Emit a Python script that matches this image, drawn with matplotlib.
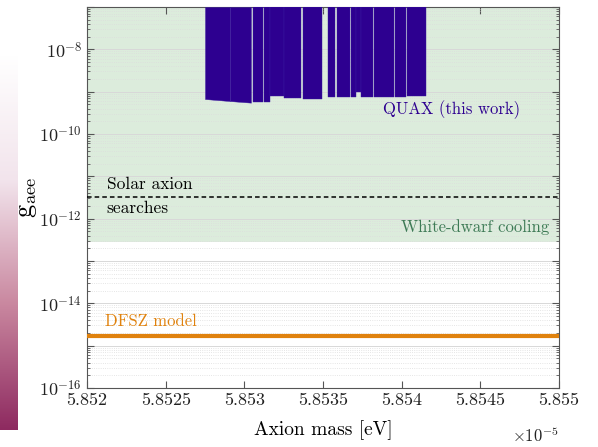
import numpy as np
import matplotlib
matplotlib.use("Agg")
import matplotlib.pyplot as plt
from matplotlib.ticker import FixedLocator, FuncFormatter, LogLocator
from matplotlib.colors import LinearSegmentedColormap

plt.rcParams['mathtext.fontset'] = 'cm'
plt.rcParams['font.family'] = ['cmr10', 'DejaVu Serif']
plt.rcParams['axes.formatter.use_mathtext'] = True

# QUAX exclusion segments (mass in eV, lower bound of excluded g_aee)
seg_start = [5.85275e-5, 5.852909e-5, 5.853053e-5, 5.853125e-5, 5.853163e-5,
             5.853254e-5, 5.853375e-5, 5.853534e-5, 5.853587e-5, 5.853678e-5,
             5.853708e-5, 5.853740e-5, 5.853826e-5, 5.853960e-5, 5.854034e-5]
seg_end = [5.852909e-5, 5.853042e-5, 5.853117e-5, 5.853163e-5, 5.853254e-5,
           5.853360e-5, 5.853496e-5, 5.853578e-5, 5.853672e-5, 5.853708e-5,
           5.853740e-5, 5.853820e-5, 5.853951e-5, 5.854026e-5, 5.854155e-5]
g_low_start = [6.7e-10, 6.0e-10, 5.7e-10, 5.8e-10, 8.0e-10,
               6.9e-10, 6.7e-10, 7.6e-10, 7.6e-10, 7.6e-10,
               1.0e-9, 7.6e-10, 7.4e-10, 7.6e-10, 7.8e-10]
g_low_end = [6.0e-10, 5.5e-10, 5.7e-10, 5.8e-10, 8.0e-10,
             6.9e-10, 6.7e-10, 7.6e-10, 7.6e-10, 7.6e-10,
             1.0e-9, 7.6e-10, 7.4e-10, 7.6e-10, 7.8e-10]
g_top = 1e-7

white_dwarf_limit = 2.85e-13
solar_limit = 3.3e-12
dfsz_value = 1.67e-15

x_min, x_max = 5.852e-5, 5.855e-5
y_min, y_max = 1e-16, 1e-7
x_ticks = [5.852e-5, 5.8525e-5, 5.853e-5, 5.8535e-5, 5.854e-5, 5.8545e-5, 5.855e-5]

fig = plt.figure(figsize=(5.98, 4.47), dpi=100)

# decorative gradient strip on the left
gax = fig.add_axes([0, 1 - 430 / 447, 18 / 598, (430 - 55) / 447])
cmap = LinearSegmentedColormap.from_list('g', ['#ffffff', '#f2e4ec', '#c9879f', '#8e2a60'])
grad = np.linspace(0, 1, 256).reshape(-1, 1)
gax.imshow(grad, aspect='auto', cmap=cmap, origin='upper')
gax.axis('off')

ax = fig.add_axes([87 / 598, 1 - 388 / 447, (559 - 87) / 598, (388 - 7) / 447])
ax.set_yscale('log')
ax.set_xlim(x_min, x_max)
ax.set_ylim(y_min, y_max)

# White dwarf region
ax.fill_between([x_min, x_max], white_dwarf_limit, y_max, color='#dcecdc', zorder=0, lw=0)

# grid
ax.set_axisbelow(True)
ax.grid(which='major', axis='y', color='#d8d8d8', lw=0.7, ls='-')
ax.grid(which='minor', axis='y', color='#dddddd', lw=0.6, ls=':')

# QUAX
for s, e, a, b in zip(seg_start, seg_end, g_low_start, g_low_end):
    ax.fill_between([s, e], [a, b], g_top, color='#2d0090', lw=0.3,
                    edgecolor='#3a1aa0', zorder=3)

# Solar
ax.plot([x_min, x_max], [solar_limit, solar_limit], color='black', ls=(0, (3, 2)),
        lw=1.1, zorder=4)
# DFSZ
ax.plot([x_min, x_max], [dfsz_value, dfsz_value], color='#e0820e', lw=3, zorder=4)

# texts
ax.text(5.852125e-5, 6.6e-12, 'Solar axion', fontsize=12.5, ha='left', va='center', zorder=5)
ax.text(5.852125e-5, 1.75e-12, 'searches', fontsize=12.5, ha='left', va='center', zorder=5)
ax.text(5.85494e-5, 6.2e-13, 'White-dwarf cooling', fontsize=12, color='#3d7a55',
        ha='right', va='center', zorder=5)
ax.text(5.85475e-5, 3.7e-10, 'QUAX (this work)', fontsize=12, color='#2d0090',
        ha='right', va='center', zorder=5)
ax.text(5.852114e-5, 3.7e-15, 'DFSZ model', fontsize=12, color='#e0820e',
        ha='left', va='center', zorder=5)

# axes styling
for sp in ax.spines.values():
    sp.set_color('#555555')
    sp.set_linewidth(0.8)
ax.tick_params(which='both', direction='in', top=True, right=True, colors='#555555',
               labelcolor='#222222', labelsize=13)
ax.tick_params(which='major', length=5)
ax.tick_params(which='minor', length=2.5)

ax.xaxis.set_major_locator(FixedLocator(x_ticks))
ax.xaxis.set_major_formatter(FuncFormatter(lambda v, p: '%g' % round(v / 1e-5, 6)))
ax.text(1.0, -0.125, r'$\times10^{-5}$', transform=ax.transAxes, fontsize=12,
        ha='right', va='center', color='#222222')

decades = [10.0 ** k for k in range(-16, -6)]
ax.yaxis.set_major_locator(FixedLocator(decades))
ax.yaxis.set_minor_locator(LogLocator(base=10, subs=np.arange(2, 10), numticks=50))

def yfmt(v, pos):
    k = int(round(np.log10(v)))
    if k % 2 == 0 and k <= -8:
        return r'$10^{%d}$' % k
    return ''
ax.yaxis.set_major_formatter(FuncFormatter(yfmt))

ax.set_xlabel('Axion mass [eV]', fontsize=14, labelpad=9)
ax.set_ylabel(r'$\mathrm{g}_{\mathrm{aee}}$', fontsize=19, labelpad=0)

fig.savefig('out.png', dpi=100)
